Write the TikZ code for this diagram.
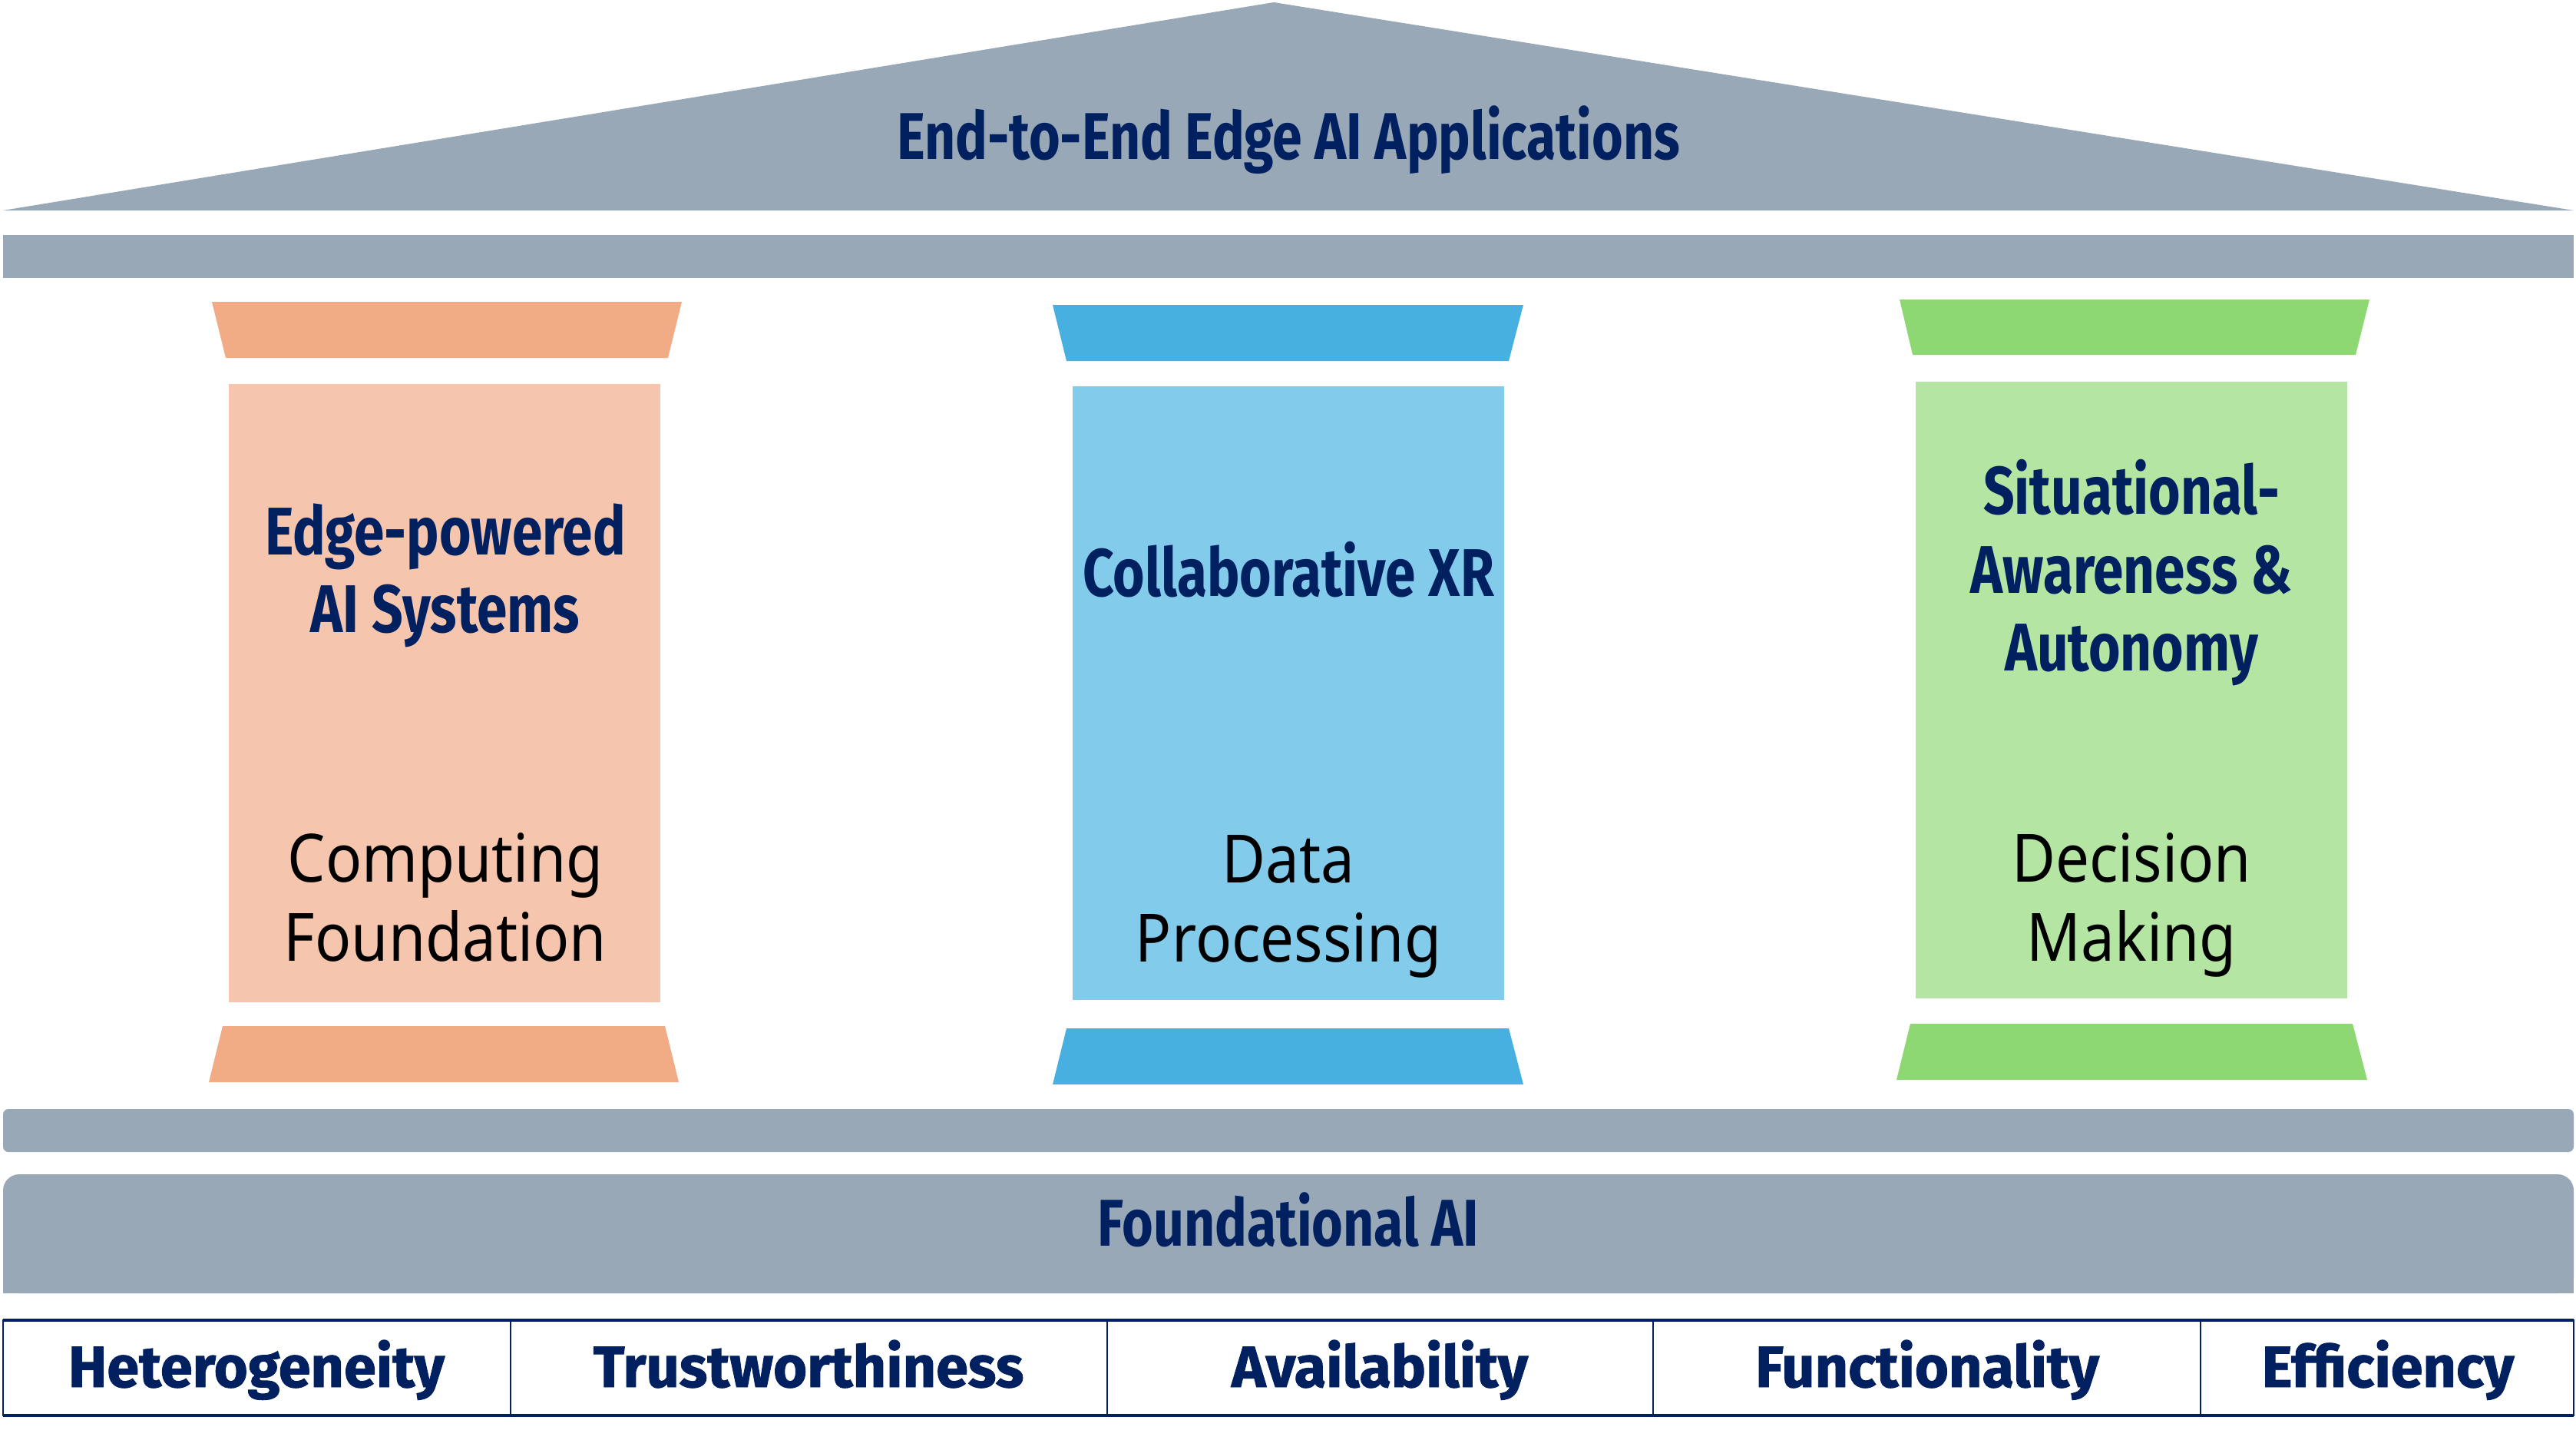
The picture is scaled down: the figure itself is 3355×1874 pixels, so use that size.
\documentclass[tikz,border=0pt]{standalone}
\usepackage{fontspec}
\newfontfamily\condfont{Fira Sans}[FakeStretch=0.81]
\newfontfamily\bodyfont{Noto Sans}[FakeStretch=0.9]
\newfontfamily\labfont{Fira Sans}[FakeBold=1.2]
\definecolor{roofgrey}{RGB}{152,168,182}
\definecolor{navy}{RGB}{0,32,96}
\definecolor{orcap}{RGB}{241,172,134}
\definecolor{orshaft}{RGB}{245,198,173}
\definecolor{blcap}{RGB}{71,176,224}
\definecolor{blshaft}{RGB}{131,203,235}
\definecolor{grcap}{RGB}{142,216,115}
\definecolor{grshaft}{RGB}{180,229,162}
\tikzset{
  headtxt/.style={anchor=base, inner sep=0pt, text=navy, font=\condfont\bfseries\fontsize{24.5}{28}\selectfont},
  coltxt/.style={anchor=base, inner sep=0pt, text=navy, font=\condfont\bfseries\fontsize{25}{28}\selectfont},
  bodytxt/.style={anchor=base, inner sep=0pt, text=black, font=\bodyfont\fontsize{24.7}{28}\selectfont},
  labtxt/.style={anchor=base, inner sep=0pt, text=navy, font=\labfont\bfseries\fontsize{21.5}{26}\selectfont},
  cellbox/.style={draw=navy, line width=0.6pt},
}
\begin{document}
\begin{tikzpicture}[x=0.1mm,y=-0.1mm]
\useasboundingbox[fill=white] (0,0) rectangle (3355,1874);
% roof
\fill[roofgrey] (4,274) -- (1659,3) -- (3352,274) -- cycle;
\node[headtxt] (title) at (1678,207) {End-to-End Edge AI Applications};
% top beam
\fill[roofgrey] (4,306) rectangle (3352,362);
% column 1 (orange)
\fill[orcap] (276,393) -- (888,393) -- (870,466) -- (294,466) -- cycle;
\fill[orshaft] (298,500) rectangle (860,1305);
\fill[orcap] (290,1336) -- (866,1336) -- (884,1409) -- (272,1409) -- cycle;
\node[coltxt] (c1a) at (580,722) {Edge-powered};
\node[coltxt] (c1b) at (580,823) {AI Systems};
\node[bodytxt] (c1c) at (580,1148) {Computing};
\node[bodytxt] (c1d) at (580,1251) {Foundation};
% column 2 (blue)
\fill[blcap] (1371,397) -- (1984,397) -- (1965,470) -- (1389,470) -- cycle;
\fill[blshaft] (1397,503) rectangle (1959,1302);
\fill[blcap] (1389,1339) -- (1965,1339) -- (1984,1412) -- (1371,1412) -- cycle;
\node[coltxt] (c2a) at (1678,776) {Collaborative XR};
\node[bodytxt] (c2c) at (1678,1149) {Data};
\node[bodytxt] (c2d) at (1678,1252) {Processing};
% column 3 (green)
\fill[grcap] (2474,390) -- (3086,390) -- (3068,462) -- (2491,462) -- cycle;
\fill[grshaft] (2495,497) rectangle (3057,1300);
\fill[grcap] (2488,1333) -- (3064,1333) -- (3083,1406) -- (2470,1406) -- cycle;
\node[coltxt] (c3a) at (2776,669) {Situational-};
\node[coltxt] (c3b) at (2776,772) {Awareness \&};
\node[coltxt] (c3c) at (2776,873) {Autonomy};
\node[bodytxt] (c3d) at (2776,1148) {Decision};
\node[bodytxt] (c3e) at (2776,1251) {Making};
% lower beam
\fill[roofgrey, rounded corners=2pt] (4,1500) -- (4,1444) -- (3352,1444) -- (3352,1500) -- cycle;
% foundational AI
\fill[roofgrey, rounded corners=6pt] (4,1684) -- (4,1529) -- (3352,1529) -- (3352,1684) -- cycle;
\fill[roofgrey] (4,1600) rectangle (3352,1684);
\node[headtxt] (fai) at (1678,1622) {Foundational AI};
% bottom row
\foreach \xa/\xb/\nm in {4/665/h1,665/1442/h2,1442/2153/h3,2153/2866/h4,2866/3352/h5}{
  \draw[cellbox] (\xa,1719) rectangle (\xb,1843);
  \draw[navy, line width=1.4pt] (\xa,1719) -- (\xb,1719);
  \draw[navy, line width=1.4pt] (\xa,1843) -- (\xb,1843);
}
\node[labtxt] (l1) at (334,1806) {Heterogeneity};
\node[labtxt] (l2) at (1053,1806) {Trustworthiness};
\node[labtxt] (l3) at (1797,1806) {Availability};
\node[labtxt] (l4) at (2510,1806) {Functionality};
\node[labtxt] (l5) at (3110,1806) {Efficiency};
\end{tikzpicture}
\end{document}
